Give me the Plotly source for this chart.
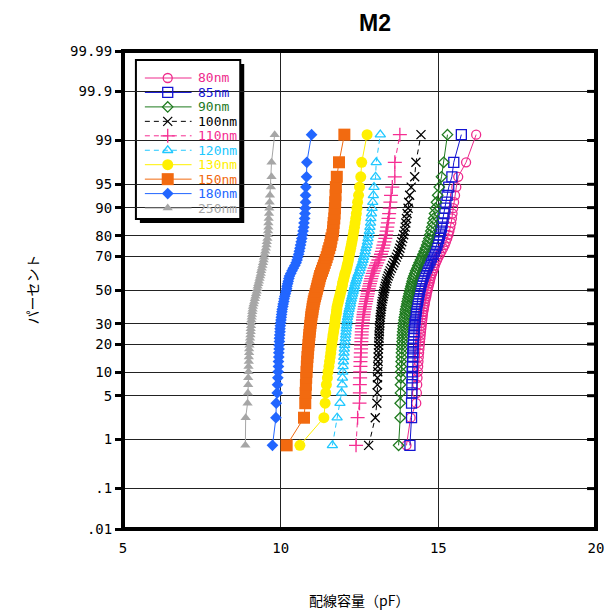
import plotly.graph_objects as go
from statistics import NormalDist

# ---------------- data ----------------
series_names = ["80nm", "85nm", "90nm", "100nm", "110nm", "120nm", "130nm", "150nm", "180nm", "250nm"]

cap_80 = [13.99, 14.12, 14.30, 14.32, 14.33, 14.34, 14.35, 14.36, 14.37, 14.38,
          14.39, 14.40, 14.41, 14.42, 14.43, 14.44, 14.45, 14.46, 14.47, 14.48,
          14.49, 14.50, 14.51, 14.52, 14.54, 14.55, 14.57, 14.58, 14.60, 14.62,
          14.63, 14.65, 14.67, 14.69, 14.71, 14.73, 14.75, 14.77, 14.80, 14.83,
          14.86, 14.89, 14.92, 14.96, 15.00, 15.05, 15.10, 15.15, 15.20, 15.24,
          15.28, 15.32, 15.35, 15.38, 15.41, 15.43, 15.45, 15.47, 15.50, 15.53,
          15.57, 15.63, 15.88, 16.20]
cap_85 = [14.10, 14.15, 14.15, 14.16, 14.16, 14.17, 14.17, 14.18, 14.18, 14.19,
          14.19, 14.20, 14.20, 14.21, 14.21, 14.22, 14.23, 14.23, 14.24, 14.25,
          14.26, 14.27, 14.28, 14.29, 14.30, 14.31, 14.32, 14.34, 14.35, 14.36,
          14.38, 14.39, 14.41, 14.43, 14.45, 14.47, 14.49, 14.52, 14.55, 14.58,
          14.62, 14.66, 14.70, 14.74, 14.78, 14.83, 14.87, 14.91, 14.95, 14.98,
          15.01, 15.04, 15.07, 15.10, 15.12, 15.15, 15.18, 15.21, 15.24, 15.28,
          15.33, 15.43, 15.49, 15.73]
cap_90 = [13.74, 13.79, 13.79, 13.80, 13.80, 13.81, 13.81, 13.82, 13.82, 13.83,
          13.83, 13.84, 13.84, 13.85, 13.86, 13.86, 13.87, 13.88, 13.89, 13.90,
          13.91, 13.92, 13.94, 13.95, 13.96, 13.98, 14.00, 14.01, 14.03, 14.05,
          14.07, 14.09, 14.11, 14.13, 14.15, 14.17, 14.19, 14.22, 14.25, 14.28,
          14.32, 14.35, 14.39, 14.43, 14.47, 14.51, 14.55, 14.59, 14.63, 14.66,
          14.70, 14.73, 14.76, 14.79, 14.82, 14.85, 14.88, 14.91, 14.94, 14.98,
          15.03, 15.10, 15.17, 15.29]
cap_100 = [12.79, 13.00, 13.05, 13.06, 13.07, 13.07, 13.08, 13.08, 13.09, 13.09,
           13.10, 13.10, 13.11, 13.11, 13.12, 13.12, 13.13, 13.13, 13.14, 13.15,
           13.15, 13.16, 13.17, 13.18, 13.19, 13.20, 13.21, 13.22, 13.24, 13.25,
           13.27, 13.28, 13.30, 13.32, 13.34, 13.36, 13.38, 13.41, 13.44, 13.47,
           13.51, 13.55, 13.59, 13.63, 13.67, 13.71, 13.75, 13.78, 13.81, 13.84,
           13.87, 13.90, 13.93, 13.95, 13.97, 13.99, 14.01, 14.04, 14.06, 14.09,
           14.14, 14.25, 14.29, 14.45]
cap_110 = [12.39, 12.44, 12.50, 12.51, 12.51, 12.52, 12.52, 12.53, 12.53, 12.54,
           12.54, 12.55, 12.55, 12.56, 12.56, 12.57, 12.57, 12.58, 12.59, 12.60,
           12.61, 12.62, 12.63, 12.64, 12.66, 12.67, 12.69, 12.71, 12.72, 12.74,
           12.76, 12.77, 12.79, 12.81, 12.83, 12.85, 12.87, 12.89, 12.92, 12.95,
           12.98, 13.02, 13.06, 13.10, 13.14, 13.18, 13.21, 13.24, 13.26, 13.29,
           13.32, 13.34, 13.36, 13.38, 13.40, 13.42, 13.44, 13.46, 13.48, 13.50,
           13.54, 13.62, 13.62, 13.78]
cap_120 = [11.64, 11.79, 11.88, 11.93, 11.95, 11.96, 11.97, 11.98, 11.99, 12.00,
           12.01, 12.02, 12.03, 12.04, 12.05, 12.06, 12.07, 12.08, 12.09, 12.10,
           12.11, 12.12, 12.14, 12.15, 12.17, 12.19, 12.21, 12.22, 12.24, 12.26,
           12.28, 12.30, 12.32, 12.34, 12.36, 12.38, 12.41, 12.43, 12.46, 12.50,
           12.52, 12.55, 12.58, 12.61, 12.63, 12.66, 12.68, 12.70, 12.73, 12.75,
           12.77, 12.79, 12.81, 12.83, 12.85, 12.86, 12.88, 12.90, 12.92, 12.94,
           12.96, 13.01, 13.03, 13.16]
cap_130 = [10.61, 11.37, 11.41, 11.43, 11.45, 11.48, 11.50, 11.53, 11.55, 11.57,
           11.59, 11.60, 11.62, 11.63, 11.65, 11.66, 11.68, 11.69, 11.71, 11.72,
           11.73, 11.74, 11.76, 11.77, 11.78, 11.79, 11.81, 11.83, 11.85, 11.87,
           11.89, 11.91, 11.93, 11.95, 11.96, 11.98, 12.00, 12.02, 12.04, 12.07,
           12.09, 12.11, 12.13, 12.15, 12.16, 12.18, 12.20, 12.22, 12.24, 12.26,
           12.28, 12.30, 12.32, 12.34, 12.36, 12.38, 12.40, 12.42, 12.44, 12.47,
           12.50, 12.54, 12.57, 12.74]
cap_150 = [10.19, 10.74, 10.78, 10.79, 10.80, 10.81, 10.82, 10.83, 10.84, 10.85,
           10.86, 10.87, 10.88, 10.89, 10.90, 10.91, 10.92, 10.93, 10.94, 10.95,
           10.96, 10.97, 10.98, 11.00, 11.01, 11.02, 11.04, 11.05, 11.07, 11.09,
           11.11, 11.13, 11.15, 11.17, 11.19, 11.21, 11.23, 11.25, 11.28, 11.31,
           11.34, 11.37, 11.40, 11.43, 11.46, 11.49, 11.51, 11.54, 11.57, 11.59,
           11.61, 11.64, 11.66, 11.67, 11.68, 11.70, 11.71, 11.72, 11.73, 11.74,
           11.75, 11.78, 11.85, 12.02]
cap_180 = [9.74, 9.85, 9.86, 9.89, 9.90, 9.91, 9.92, 9.93, 9.93, 9.94,
           9.94, 9.95, 9.95, 9.96, 9.96, 9.97, 9.98, 9.98, 9.99, 10.00,
           10.01, 10.02, 10.03, 10.04, 10.05, 10.07, 10.08, 10.10, 10.11, 10.13,
           10.15, 10.17, 10.19, 10.20, 10.22, 10.24, 10.26, 10.28, 10.32, 10.36,
           10.40, 10.45, 10.49, 10.52, 10.54, 10.57, 10.59, 10.61, 10.63, 10.65,
           10.67, 10.69, 10.71, 10.73, 10.74, 10.76, 10.77, 10.78, 10.79, 10.79,
           10.80, 10.82, 10.83, 10.98]
cap_250 = [8.88, 8.89, 8.95, 8.96, 8.97, 8.97, 8.98, 8.98, 8.99, 8.99,
           9.00, 9.00, 9.01, 9.02, 9.03, 9.04, 9.05, 9.05, 9.06, 9.06,
           9.07, 9.08, 9.09, 9.10, 9.11, 9.12, 9.14, 9.16, 9.18, 9.20,
           9.22, 9.24, 9.26, 9.27, 9.29, 9.31, 9.33, 9.35, 9.37, 9.38,
           9.40, 9.42, 9.44, 9.46, 9.47, 9.49, 9.51, 9.53, 9.55, 9.56,
           9.58, 9.59, 9.60, 9.61, 9.61, 9.62, 9.63, 9.64, 9.65, 9.66,
           9.69, 9.71, 9.71, 9.81]

all_caps = [cap_80, cap_85, cap_90, cap_100, cap_110, cap_120, cap_130, cap_150, cap_180, cap_250]

percent_ticks = [0.01, 0.1, 1, 5, 10, 20, 30, 50, 70, 80, 90, 95, 99, 99.9, 99.99]
percent_labels = [".01", ".1", "1", "5", "10", "20", "30", "50", "70", "80", "90", "95", "99", "99.9", "99.99"]
x_ticks = [5, 10, 15, 20]

# ---------------- styles ----------------
colors = ["#EE2A8C", "#1414D2", "#1E7A1E", "#000000", "#F52E92",
          "#20C8FF", "#FFF000", "#F26A10", "#2266FF", "#A6A6A6"]
symbols = ["circle-open", "square-open", "diamond-open", "x-thin-open", "cross-thin-open",
           "triangle-up-open", "circle", "square", "diamond", "triangle-up"]
sizes = [9, 10, 8, 9, 10, 9, 11, 12, 9, 9]
dashes = ["solid", "solid", "solid", "5px,4px", "5px,4px", "5px,4px",
          "solid", "solid", "solid", "solid"]

nd = NormalDist()
ZT = nd.inv_cdf(0.9999)

# plot area in pixels (for layout helpers)
L, R, T, B = 123, 599, 51, 529
W, H = R - L, B - T


def fx(px):
    return (px - L) / W


def fy(py):
    return (B - py) / H


def dx(px):  # pixel -> data x
    return 5 + 15 * fx(px)


def dz(py):  # pixel -> data z
    return -ZT + 2 * ZT * fy(py)


fig = go.Figure()

for name, caps, col, sym, sz, dsh in zip(series_names, all_caps, colors, symbols, sizes, dashes):
    n = len(caps)
    vals = sorted(caps)
    zs = [nd.inv_cdf((i - 0.5) / n) for i in range(1, n + 1)]
    open_m = sym.endswith("open")
    fig.add_trace(go.Scatter(
        x=vals, y=zs, mode="lines+markers", name=name, showlegend=False,
        line=dict(color=col, width=1, dash=dsh),
        marker=dict(symbol=sym, size=sz, color=col,
                    line=dict(color=col, width=1.3 if open_m else 0)),
    ))

# ---------------- custom legend ----------------
shapes = []
# shadow + box
shapes.append(dict(type="rect", xref="paper", yref="paper", layer="between",
                   x0=fx(140), x1=fx(245), y0=fy(223), y1=fy(64),
                   fillcolor="black", line=dict(width=0)))
shapes.append(dict(type="rect", xref="paper", yref="paper", layer="between",
                   x0=fx(136), x1=fx(241), y0=fy(219), y1=fy(60),
                   fillcolor="white", line=dict(color="black", width=2)))

annotations = []
for k, (name, col, sym, sz, dsh) in enumerate(zip(series_names, colors, symbols, sizes, dashes)):
    py = 78 + 14.45 * k
    open_m = sym.endswith("open")
    fig.add_trace(go.Scatter(
        x=[dx(145), dx(168), dx(192)], y=[dz(py)] * 3, mode="lines", showlegend=False,
        hoverinfo="skip", line=dict(color=col, width=1, dash=dsh)))
    fig.add_trace(go.Scatter(
        x=[dx(168)], y=[dz(py)], mode="markers", showlegend=False, hoverinfo="skip",
        marker=dict(symbol=sym, size=sz, color=col,
                    line=dict(color=col, width=1.3 if open_m else 0))))
    annotations.append(dict(xref="paper", yref="paper", x=fx(196), y=fy(py),
                            xanchor="left", yanchor="middle", showarrow=False,
                            text=name, font=dict(family="DejaVu Sans Mono", size=13, color=col)))

# frame
shapes.append(dict(type="rect", xref="paper", yref="paper", layer="above",
                   x0=0, x1=1, y0=0, y1=1, line=dict(color="black", width=4)))
# inner ticks on right side
for p in percent_ticks[1:-1]:
    zv = nd.inv_cdf(p / 100)
    shapes.append(dict(type="line", xref="paper", yref="y", layer="above",
                       x0=1 - 9 / W, x1=1, y0=zv, y1=zv,
                       line=dict(color="black", width=3)))

# titles
annotations.append(dict(xref="paper", yref="paper", x=fx(377), y=fy(23),
                        xanchor="center", yanchor="middle", showarrow=False,
                        text="<b>M2</b>", font=dict(family="Liberation Sans", size=23, color="black")))
annotations.append(dict(xref="paper", yref="paper", x=fx(360), y=fy(600),
                        xanchor="center", yanchor="middle", showarrow=False,
                        text="配線容量（pF）", font=dict(family="Noto Sans CJK JP", size=14, color="black")))
annotations.append(dict(xref="paper", yref="paper", x=fx(31), y=fy(290),
                        xanchor="center", yanchor="middle", showarrow=False, textangle=-90,
                        text="パーセント", font=dict(family="Noto Sans CJK JP", size=14, color="black")))

fig.update_layout(
    width=616, height=610,
    margin=dict(l=L, r=616 - R, t=T, b=610 - B, pad=0),
    paper_bgcolor="white", plot_bgcolor="white",
    showlegend=False,
    shapes=shapes, annotations=annotations,
    xaxis=dict(range=[5, 20], tickvals=x_ticks, ticktext=[str(v) for v in x_ticks],
               showgrid=True, gridcolor="#222222", gridwidth=1, zeroline=False,
               showline=False, ticks="outside", ticklen=6, tickcolor="rgba(0,0,0,0)",
               tickfont=dict(family="DejaVu Sans Mono", size=14, color="black")),
    yaxis=dict(range=[-ZT, ZT], tickvals=[nd.inv_cdf(p / 100) for p in percent_ticks],
               ticktext=percent_labels,
               showgrid=True, gridcolor="#222222", gridwidth=1, zeroline=False,
               showline=False, ticks="outside", ticklen=7, tickwidth=3, tickcolor="black",
               tickfont=dict(family="DejaVu Sans Mono", size=14, color="black")),
)

fig.write_html("out.html")
